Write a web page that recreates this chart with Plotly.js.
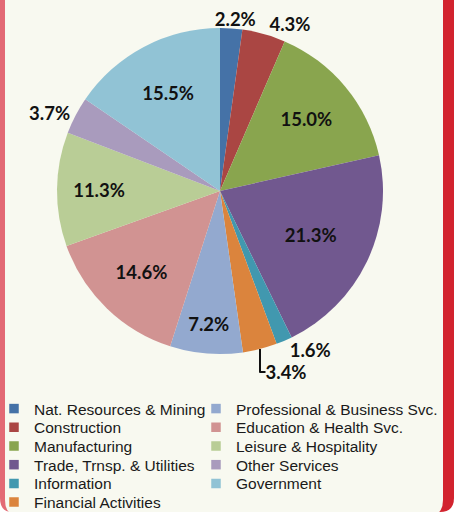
<!DOCTYPE html>
<html>
<head>
<meta charset="utf-8">
<script src="https://cdn.plot.ly/plotly-3.0.1.min.js"></script>
<style>
  html, body { margin: 0; padding: 0; background: #ffffff; }
  #chart { width: 454px; height: 512px; }
</style>
</head>
<body>
<div id="chart"></div>
<script>
// Sectores y participación en el empleo (%)
const sectores = [
  'Nat. Resources & Mining', 'Construction', 'Manufacturing',
  'Trade, Trnsp. & Utilities', 'Information', 'Financial Activities',
  'Professional & Business Svc.', 'Education & Health Svc.',
  'Leisure & Hospitality', 'Other Services', 'Government'
];
const valores = [2.2, 4.3, 15.0, 21.3, 1.6, 3.4, 7.2, 14.6, 11.3, 3.7, 15.5];
const colores = [
  '#4572A7', '#AA4643', '#89A54E', '#71588F', '#4198AF', '#DB843D',
  '#93A9CF', '#D19392', '#B9CD96', '#A99BBD', '#91C3D5'
];
// posición de cada etiqueta; la de 2.2% va en una capa aparte (centrada sobre su sector)
const posTexto = ['none', 'outside', 'inside', 'inside', 'outside', 'outside',
  'inside', 'inside', 'inside', 'outside', 'inside'];
const posTextoCapa = valores.map((v, i) => i === 0 ? 'outside' : 'none');

// Conversión de píxeles a coordenadas de papel
const W = 454, H = 512;
const px = x => x / W;
const py = y => 1 - y / H;

const fuenteEtiq = { family: 'Lato', size: 18.5, color: '#111111', weight: 'bold' };
const dominio = { x: [px(57), px(383)], y: [py(354), py(28)] };
const dominioCapa = { x: [px(35), px(361)], y: [py(356), py(30)] };

const trazas = [{
  type: 'pie',
  values: valores,
  labels: sectores,
  sort: false,
  direction: 'clockwise',
  rotation: 0,
  marker: { colors: colores, line: { width: 0 } },
  texttemplate: '%{value:.1f}%',
  textposition: posTexto,
  insidetextorientation: 'horizontal',
  textfont: fuenteEtiq,
  domain: dominio,
  showlegend: false
}, {
  type: 'pie',
  values: valores,
  labels: sectores,
  sort: false,
  direction: 'clockwise',
  rotation: 0,
  marker: { colors: valores.map(() => 'rgba(0,0,0,0)'), line: { width: 0 } },
  texttemplate: '%{value:.1f}%',
  textposition: posTextoCapa,
  textfont: fuenteEtiq,
  domain: dominioCapa,
  showlegend: false
}];

// Leyenda en dos columnas (una leyenda por entrada)
const layoutLeyendas = {};
sectores.forEach((s, i) => {
  const key = i === 0 ? 'legend' : 'legend' + (i + 1);
  const col = i < 6 ? 0 : 1;
  const fila = i < 6 ? i : i - 6;
  trazas.push({
    type: 'scatter', x: [null], y: [null], mode: 'markers', name: s,
    marker: { symbol: 'square', size: 9.5, color: colores[i] },
    legend: key, showlegend: true
  });
  layoutLeyendas[key] = {
    x: px(col === 0 ? -6 : 196), y: py(409 + fila * 18.7),
    xanchor: 'left', yanchor: 'middle',
    bgcolor: 'rgba(0,0,0,0)', borderwidth: 0,
    font: { family: 'Liberation Sans', size: 15.5, color: '#1a1a1a' }
  };
});

const fondo = '#F8F9F0';
const layout = Object.assign({
  width: W, height: H,
  margin: { l: 0, r: 0, t: 0, b: 0, autoexpand: false },
  paper_bgcolor: '#ffffff',
  plot_bgcolor: 'rgba(0,0,0,0)',
  xaxis: { visible: false }, yaxis: { visible: false },
  shapes: [
    // marco
    { type: 'path', xref: 'paper', yref: 'paper', layer: 'below', line: { width: 0 }, fillcolor: '#E36A75',
      path: `M0,${py(-10)} L${px(230)},${py(-10)} L${px(230)},${py(512)} L${px(12)},${py(512)} Q0,${py(512)} 0,${py(498)} Z` },
    { type: 'path', xref: 'paper', yref: 'paper', layer: 'below', line: { width: 0 }, fillcolor: '#D2232E',
      path: `M${px(220)},${py(-10)} L${px(454)},${py(-10)} L${px(454)},${py(498)} Q${px(454)},${py(512)} ${px(440)},${py(512)} L${px(220)},${py(512)} Z` },
    // interior
    { type: 'path', xref: 'paper', yref: 'paper', layer: 'below', line: { width: 0 }, fillcolor: fondo,
      path: `M${px(5)},${py(-10)} L${px(443)},${py(-10)} L${px(443)},${py(500)} Q${px(443)},${py(516)} ${px(428)},${py(516)} L${px(20)},${py(516)} Q${px(5)},${py(516)} ${px(5)},${py(500)} Z` }
  ]
}, layoutLeyendas);

Plotly.newPlot('chart', trazas, layout, { displayModeBar: false, staticPlot: true });
</script>
</body>
</html>
